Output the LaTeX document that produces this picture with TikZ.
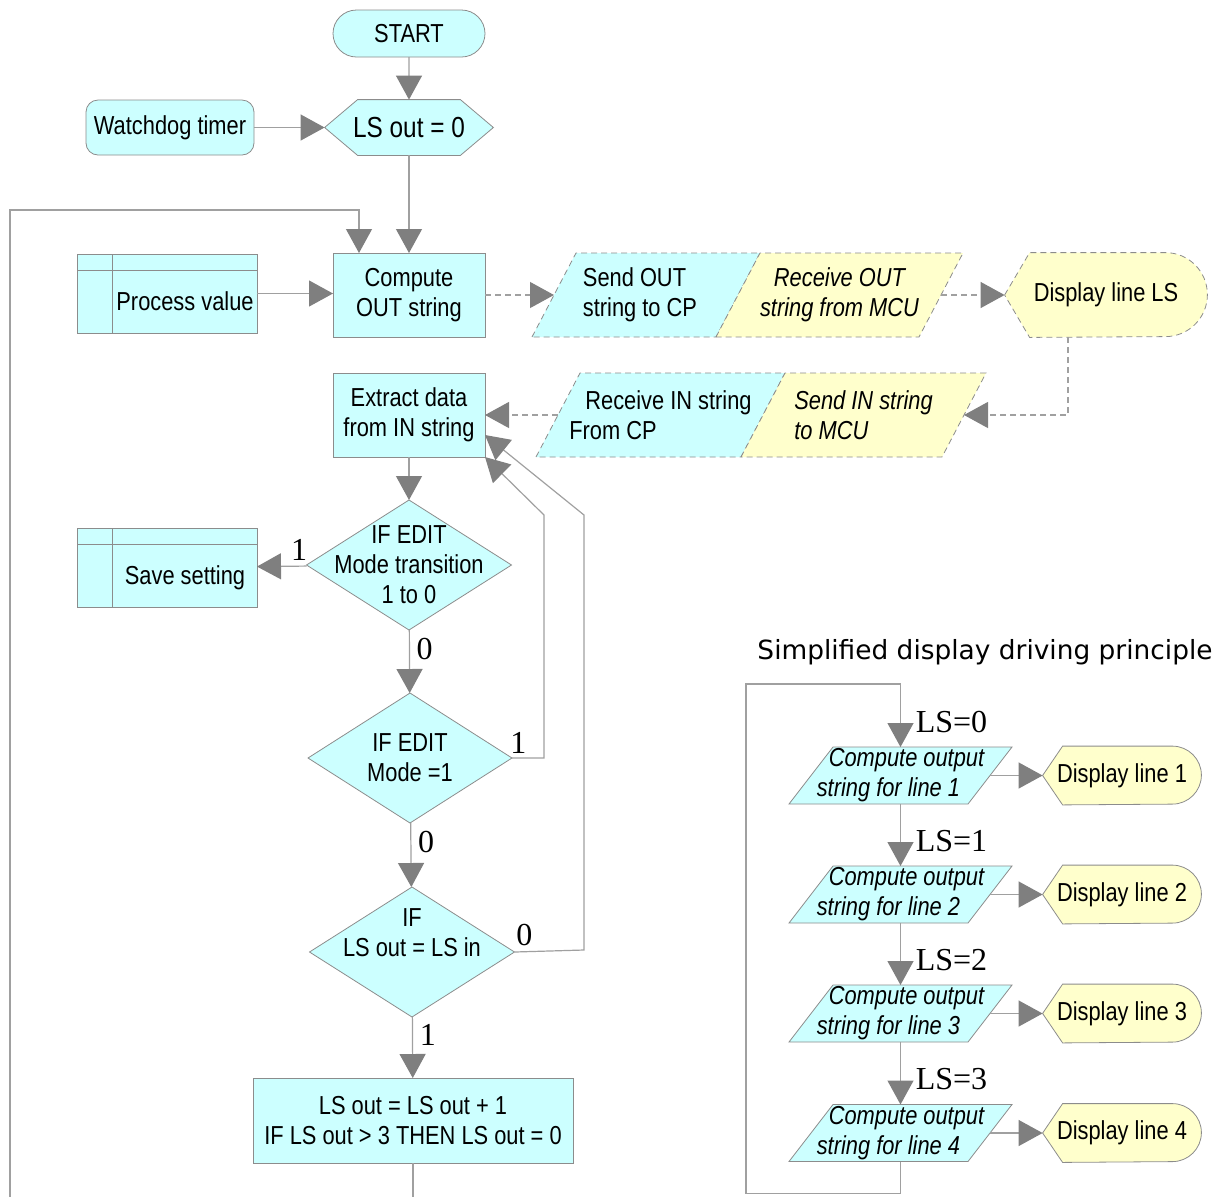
\documentclass[tikz,border=0pt]{standalone}
\usepackage{fontspec}
\setmainfont[FakeStretch=0.84]{Liberation Sans}
\newfontfamily\labelfont{Liberation Serif}
\newfontfamily\titlefont{DejaVu Sans}
\usetikzlibrary{arrows.meta,positioning,shapes.misc,backgrounds}

\definecolor{boxcyan}{HTML}{CCFFFF}
\definecolor{boxyellow}{HTML}{FFFFCC}
\definecolor{edgegray}{HTML}{8C8C8C}
\definecolor{linegray}{HTML}{A0A0A0}
\definecolor{tipgray}{HTML}{7F7F7F}

\newcommand{\boxfont}{\fontsize{13}{15}\selectfont}

\begin{document}
\begin{tikzpicture}[x=0.5pt, y=-0.5pt, font=\boxfont,
    >={Triangle[length=12pt, width=13pt, color=tipgray]}]
\tikzstyle{process}=[rectangle,
                     draw=edgegray,
                     fill=boxcyan,
                     align=center,
                     inner sep=0pt, outer sep=0pt]
\tikzstyle{terminal}=[rounded rectangle,
                      draw=edgegray,
                      fill=boxcyan,
                      inner sep=0pt, outer sep=0pt]
\tikzstyle{storage}=[rectangle,
                     draw=edgegray,
                     fill=boxcyan,
                     minimum width=90pt, minimum height=39.5pt,
                     inner sep=0pt, outer sep=0pt,
                     text height=17pt, text depth=0pt,
                     path picture={
                       \draw[edgegray] ([xshift=17.5pt]path picture bounding box.north west)
                         -- ([xshift=17.5pt]path picture bounding box.south west);
                       \draw[edgegray] ([yshift=-8pt]path picture bounding box.north west)
                         -- ([yshift=-8pt]path picture bounding box.north east);}]
\tikzstyle{decision}=[rectangle,
                      minimum width=102.5pt, minimum height=65pt,
                      align=center,
                      inner sep=0pt, outer sep=0pt]
\tikzstyle{io}=[rectangle,
                minimum height=42pt,
                align=left,
                inner sep=0pt, outer sep=0pt]
\tikzstyle{output}=[rectangle,
                    minimum width=111.5pt, minimum height=28.5pt,
                    align=left,
                    font=\boxfont\itshape,
                    inner sep=0pt, outer sep=0pt]
\tikzstyle{flow}=[draw=linegray, line width=0.6pt]
\tikzstyle{dashflow}=[flow, dash pattern=on 3pt off 2pt]
\tikzstyle{branch}=[font=\labelfont\fontsize{16}{18}\selectfont]

\useasboundingbox (0,0) rectangle (1222,1196);

% main loop
\node[terminal, minimum width=76pt, minimum height=23.5pt] (start) at (409,33.5) {START};
\node[minimum width=84pt, minimum height=27.5pt, inner sep=0pt,
  font=\fontsize{14.5}{17}\selectfont] (lsinit) at (409,127.5) {LS out = 0};
\node[process, rounded corners=6pt, minimum width=84pt, minimum height=27.5pt]
  (watchdog) at (170,127.5) {Watchdog timer};

\node[process, minimum width=76pt, minimum height=42pt] (compute) at (409,295)
  {Compute\\OUT string};
\node[storage] (procval) at (167,293.5) {\hspace*{18pt}Process value};

\node[io, minimum width=114pt] (sendout) at (646,295)
  {\hspace*{-6pt}Send OUT\\\hspace*{-6pt}string to CP};
\node[io, minimum width=123.5pt, align=center, font=\boxfont\itshape,
  right=-22pt of sendout] (recvout) {Receive OUT\\string from MCU};
\node[minimum width=101pt, minimum height=42pt, inner sep=0pt] (displs) at (1106,295)
  {Display line LS};

\node[io, minimum width=124.5pt] (recvin) at (660.5,415)
  {\hspace*{8pt}Receive IN string\\From CP};
\node[io, minimum width=122.5pt, font=\boxfont\itshape,
  right=-22pt of recvin] (sendin) {Send IN string\\to MCU};

\node[process, minimum width=76pt, minimum height=42pt] (extract) at (409,415)
  {Extract data\\from IN string};
\node[decision] (modetrans) at (409,565)
  {IF EDIT\\Mode transition\\1 to 0};
\node[storage] (savesetting) at (167,567.5) {\hspace*{18pt}Save setting};
\node[decision, minimum width=102pt] (modeedit) at (410,758)
  {IF EDIT\\Mode =1};
\node[decision] (lscheck) at (412,952)
  {IF\\LS out = LS in\\\strut};
\node[process, minimum width=160pt, minimum height=42.5pt] (lsupdate) at (413,1120.5)
  {LS out = LS out + 1\\IF LS out > 3 THEN LS out = 0};

% display principle
\node[font=\titlefont\fontsize{13.2}{15}\selectfont] (title) at (985,652)
  {Simplified display driving principle};
\node[output] (line1) at (900.5,775.5) {\hspace*{6pt}Compute output\\string for line 1};
\node[output] (line2) at (900.5,894.5) {\hspace*{6pt}Compute output\\string for line 2};
\node[output] (line3) at (900.5,1013.5) {\hspace*{6pt}Compute output\\string for line 3};
\node[output] (line4) at (900.5,1133) {\hspace*{6pt}Compute output\\string for line 4};
\node[minimum width=79pt, minimum height=29pt, inner sep=0pt] (disp1) at (1122,775.5)
  {Display line 1};
\node[minimum width=79pt, minimum height=29pt, inner sep=0pt] (disp2) at (1122,894.5)
  {Display line 2};
\node[minimum width=79pt, minimum height=29pt, inner sep=0pt] (disp3) at (1122,1013.5)
  {Display line 3};
\node[minimum width=79pt, minimum height=29pt, inner sep=0pt] (disp4) at (1122,1133)
  {Display line 4};

\begin{pgfonlayer}{background}
  \draw[draw=edgegray, fill=boxcyan] (lsinit.west) -- ([xshift=16.5pt]lsinit.north west)
    -- ([xshift=-16.5pt]lsinit.north east) -- (lsinit.east)
    -- ([xshift=-16.5pt]lsinit.south east) -- ([xshift=16.5pt]lsinit.south west) -- cycle;
  \foreach \d in {modetrans,modeedit,lscheck}
    \draw[draw=edgegray, fill=boxcyan] (\d.north) -- (\d.east) -- (\d.south) -- (\d.west) -- cycle;
  \foreach \p/\c in {sendout/boxcyan,recvout/boxyellow,recvin/boxcyan,sendin/boxyellow}
    \draw[draw=edgegray, fill=\c, dash pattern=on 3pt off 2pt] (\p.south west)
      -- ([xshift=22pt]\p.north west) -- (\p.north east) -- ([xshift=-22pt]\p.south east) -- cycle;
  \foreach \p in {line1,line2,line3,line4}
    \draw[draw=edgegray, fill=boxcyan] (\p.south west)
      -- ([xshift=22pt]\p.north west) -- (\p.north east) -- ([xshift=-22pt]\p.south east) -- cycle;
  \draw[draw=edgegray, fill=boxyellow, dash pattern=on 3pt off 2pt]
    (displs.west) -- ([xshift=12.5pt]displs.north west) -- ([xshift=-21pt]displs.north east)
    arc[start angle=90, end angle=-90, radius=21pt] -- ([xshift=12.5pt]displs.south west) -- cycle;
  \foreach \d in {disp1,disp2,disp3,disp4}
    \draw[draw=edgegray, fill=boxyellow] (\d.west) -- ([xshift=10pt]\d.north west)
      -- ([xshift=-14.5pt]\d.north east) arc[start angle=90, end angle=-90, radius=14.5pt]
      -- ([xshift=10pt]\d.south west) -- cycle;
\end{pgfonlayer}

\path[flow, ->]
(start) edge (lsinit)
(watchdog) edge (lsinit)
(lsinit) edge (compute)
(extract) edge (modetrans)
(modetrans) edge node[branch, pos=0.15, above=-1pt] {1} (savesetting)
(modetrans) edge node[branch, right, pos=0.3] {0} (modeedit)
(modeedit) edge node[branch, right, pos=0.3] {0} (lscheck)
(lscheck) edge node[branch, right, pos=0.3] {1} (lsupdate)

(line1) edge node[branch, right, pos=0.6, xshift=4pt] {LS=1} (line2)
(line2) edge node[branch, right, pos=0.6, xshift=4pt] {LS=2} (line3)
(line3) edge node[branch, right, pos=0.6, xshift=4pt] {LS=3} (line4);

\draw[flow, ->] ([xshift=-11pt]line1.east) -- (disp1.west);
\draw[flow, ->] ([xshift=-11pt]line2.east) -- (disp2.west);
\draw[flow, ->] ([xshift=-11pt]line3.east) -- (disp3.west);
\draw[flow, ->] ([xshift=-11pt]line4.east) -- (disp4.west);

\draw[flow, ->] (procval.east) -- (procval.east -| compute.west);

\draw[flow, ->] (modeedit.east) node[branch, above right=-2pt, xshift=-3pt] {1}
  -- (544,758) -- (544,515) -- (extract.south east);
\draw[flow, ->] (lscheck.east) node[branch, above right=-1pt, xshift=-2pt] {0}
  -- (584,950) -- (584,515) -- ([yshift=-10pt]extract.east);

\draw[flow, ->] (lsupdate.south) -- (413,1215) -| (10,210) -| ([xshift=-25pt]compute.north);
\draw[flow, ->] (line4.south) -- ++(0,32) -| (746,684) -| (line1.north)
  node[branch, right, pos=0.8, xshift=4pt] {LS=0};

\draw[dashflow, ->] (compute.east) -- ([xshift=11pt]sendout.west);
\draw[dashflow, ->] ([xshift=-11pt]recvout.east) -- (displs.west);
\draw[dashflow, ->] ([xshift=-19pt]displs.south) |- ([xshift=-11pt]sendin.east);
\draw[dashflow, ->] ([xshift=11pt]recvin.west) -- (extract.east);
\end{tikzpicture}
\end{document}
